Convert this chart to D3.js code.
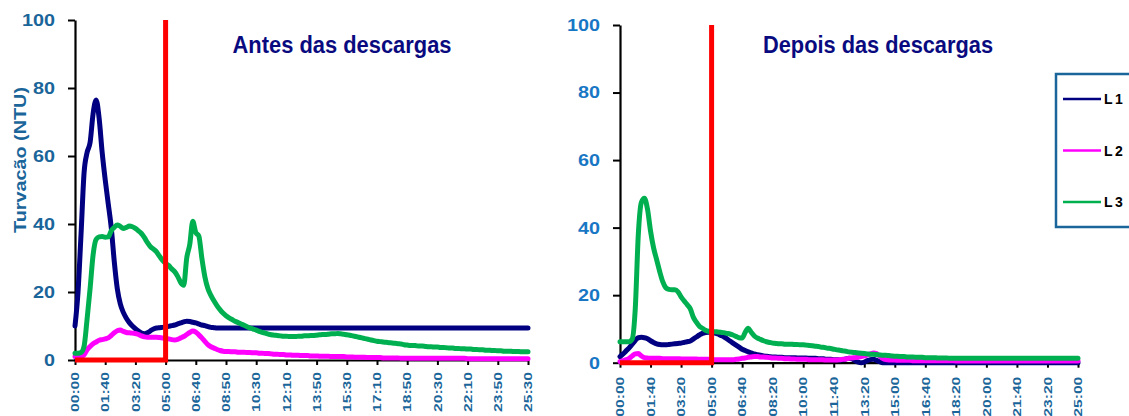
<!DOCTYPE html>
<html>
<head>
<meta charset="utf-8">
<script src="https://cdn.jsdelivr.net/npm/d3@7"></script>
<style>
  html, body { margin: 0; padding: 0; background: #fff; }
  svg { display: block; font-family: "Liberation Sans", Arial, sans-serif; }
</style>
</head>
<body>
<svg id="chart" width="1129" height="416"></svg>
<script>
// Time-axis labels (one label every 10 readings)
const labelsBefore = ["00:00","01:40","03:20","05:00","06:40","08:50","10:30","12:10","13:50","15:30","17:10","18:50","20:30","22:10","23:50","25:30"];
const labelsAfter  = ["00:00","01:40","03:20","05:00","06:40","08:20","10:00","11:40","13:20","15:00","16:40","18:20","20:00","21:40","23:20","25:00"];
const readingsPerLabel = 10;
const yTicks = [0, 20, 40, 60, 80, 100];
const dischargeTime = "05:00";

// Turbidity (NTU) before the discharges
const l1Before = [
  10, 20, 37, 55, 61, 64, 72.5, 76.5, 71, 61,
  53, 46, 39, 29, 21, 16.5, 14, 12.3, 11, 10,
  9.2, 8.5, 7.9, 7.7, 8.0, 8.6, 9.1, 9.4, 9.5, 9.6,
  9.7, 9.9, 10.1, 10.3, 10.6, 10.9, 11.2, 11.4, 11.3, 11.1,
  10.9, 10.6, 10.3, 10.1, 9.8, 9.6, 9.5, 9.4, 9.4, 9.4,
  9.4, 9.4, 9.4, 9.4, 9.4, 9.4, 9.4, 9.4, 9.4, 9.4,
  9.4, 9.4, 9.4, 9.4, 9.4, 9.4, 9.4, 9.4, 9.4, 9.4,
  9.4, 9.4, 9.4, 9.4, 9.4, 9.4, 9.4, 9.4, 9.4, 9.4,
  9.4, 9.4, 9.4, 9.4, 9.4, 9.4, 9.4, 9.4, 9.4, 9.4,
  9.4, 9.4, 9.4, 9.4, 9.4, 9.4, 9.4, 9.4, 9.4, 9.4,
  9.4, 9.4, 9.4, 9.4, 9.4, 9.4, 9.4, 9.4, 9.4, 9.4,
  9.4, 9.4, 9.4, 9.4, 9.4, 9.4, 9.4, 9.4, 9.4, 9.4,
  9.4, 9.4, 9.4, 9.4, 9.4, 9.4, 9.4, 9.4, 9.4, 9.4,
  9.4, 9.4, 9.4, 9.4, 9.4, 9.4, 9.4, 9.4, 9.4, 9.4,
  9.4, 9.4, 9.4, 9.4, 9.4, 9.4, 9.4, 9.4, 9.4, 9.4,
  9.4
];
const l2Before = [
  1, 1, 1, 1.5, 3, 4, 4.8, 5.3, 5.8, 6,
  6.2, 6.5, 7.2, 8, 8.6, 8.8, 8.4, 8.1, 8, 7.9,
  7.8, 7.5, 7.1, 6.8, 6.7, 6.7, 6.7, 6.7, 6.6, 6.5,
  6.4, 6.2, 6.0, 5.9, 6.1, 6.5, 6.9, 7.5, 8.1, 8.5,
  8.2, 7.4, 6.5, 5.5, 4.5, 3.9, 3.5, 3.1, 2.8, 2.6,
  2.5, 2.5, 2.4, 2.4, 2.3, 2.3, 2.3, 2.2, 2.2, 2.1,
  2.1, 2.0, 2.0, 1.9, 1.9, 1.8, 1.7, 1.7, 1.6, 1.6,
  1.5, 1.5, 1.4, 1.4, 1.4, 1.3, 1.3, 1.3, 1.2, 1.2,
  1.2, 1.1, 1.1, 1.1, 1.1, 1.0, 1.0, 1.0, 1.0, 1.0,
  0.9, 0.9, 0.9, 0.8, 0.8, 0.8, 0.8, 0.7, 0.7, 0.7,
  0.7, 0.7, 0.6, 0.6, 0.6, 0.6, 0.6, 0.6, 0.5, 0.5,
  0.5, 0.5, 0.5, 0.5, 0.5, 0.5, 0.5, 0.5, 0.5, 0.5,
  0.5, 0.5, 0.5, 0.5, 0.5, 0.5, 0.5, 0.5, 0.5, 0.5,
  0.4, 0.4, 0.4, 0.4, 0.4, 0.4, 0.4, 0.4, 0.4, 0.4,
  0.4, 0.4, 0.4, 0.4, 0.4, 0.4, 0.4, 0.4, 0.4, 0.4,
  0.4
];
const l3Before = [
  2, 2, 2.2, 4, 12, 21, 31, 35.5, 36.2, 36.3,
  36.1, 36.2, 38, 39, 39.7, 39.3, 38.7, 39, 39.4, 39.2,
  38.7, 38, 37.2, 36, 34.5, 33.3, 32.6, 31.8, 30.5, 29.3,
  28.4, 27.8, 26.8, 26, 24.6, 22.8, 22, 30, 34, 40.8,
  37.5, 36.5, 30, 24.5, 21, 19, 17.4, 16, 14.8, 13.8,
  13, 12.4, 11.9, 11.4, 11, 10.6, 10.2, 9.8, 9.4, 9.1,
  8.8, 8.4, 8.1, 7.9, 7.6, 7.4, 7.3, 7.2, 7.1, 7.0,
  7.0, 6.9, 6.9, 6.9, 7.0, 7.0, 7.1, 7.1, 7.2, 7.2,
  7.3, 7.4, 7.5, 7.5, 7.6, 7.7, 7.7, 7.8, 7.7, 7.6,
  7.4, 7.3, 7.1, 6.9, 6.7, 6.5, 6.3, 6.1, 5.9, 5.7,
  5.5, 5.4, 5.3, 5.2, 5.1, 5.0, 4.9, 4.8, 4.7, 4.5,
  4.4, 4.3, 4.3, 4.2, 4.1, 4.1, 4.0, 3.9, 3.9, 3.8,
  3.8, 3.7, 3.7, 3.6, 3.5, 3.5, 3.4, 3.4, 3.3, 3.3,
  3.2, 3.2, 3.1, 3.1, 3.0, 3.0, 2.9, 2.9, 2.8, 2.8,
  2.7, 2.7, 2.6, 2.6, 2.6, 2.5, 2.5, 2.5, 2.4, 2.4,
  2.4
];

// Turbidity (NTU) after the discharges
const l1After = [
  1.8, 2.6, 3.5, 4.4, 5.5, 6.6, 7.4, 7.5, 7.4, 7.1,
  6.5, 6.0, 5.6, 5.4, 5.3, 5.3, 5.4, 5.5, 5.6, 5.7,
  5.8, 6.0, 6.2, 6.4, 7.0, 7.6, 8.2, 8.7, 8.9, 9.0,
  8.9, 8.8, 8.5, 8.1, 7.7, 7.1, 6.4, 5.8, 5.2, 4.6,
  4.0, 3.6, 3.2, 2.9, 2.6, 2.4, 2.2, 2.0, 1.9, 1.8,
  1.7, 1.7, 1.6, 1.6, 1.5, 1.5, 1.5, 1.5, 1.4, 1.4,
  1.4, 1.4, 1.3, 1.3, 1.3, 1.2, 1.2, 1.1, 1.0, 1.0,
  0.9, 0.9, 0.8, 0.9, 1.1, 1.3, 1.1, 0.6, 0.2, 0,
  0.2, 0.6, 0.9, 1.0, 0.7, 0.3, 0, 0, 0, 0,
  0, 0, 0, 0, 0, 0, 0, 0, 0, 0,
  0, 0, 0, 0, 0, 0, 0, 0, 0, 0,
  0, 0, 0, 0, 0, 0, 0, 0, 0, 0,
  0, 0, 0, 0, 0, 0, 0, 0, 0, 0,
  0, 0, 0, 0, 0, 0, 0, 0, 0, 0,
  0, 0, 0, 0, 0, 0, 0, 0, 0, 0,
  0
];
const l2After = [
  0.3, 0.6, 0.9, 1.3, 2.0, 2.6, 2.7, 2.0, 1.5, 1.4,
  1.3, 1.3, 1.3, 1.3, 1.2, 1.2, 1.2, 1.2, 1.2, 1.2,
  1.1, 1.1, 1.1, 1.1, 1.1, 1.1, 1.0, 1.0, 1.0, 1.0,
  0.9, 0.9, 0.9, 0.9, 0.9, 0.9, 0.9, 0.9, 1.0, 1.1,
  1.3, 1.4, 1.6, 1.7, 1.8, 1.8, 1.7, 1.7, 1.6, 1.5,
  1.4, 1.4, 1.3, 1.3, 1.2, 1.2, 1.1, 1.1, 1.0, 1.0,
  1.0, 1.0, 0.9, 0.9, 0.9, 0.9, 0.9, 0.8, 0.8, 0.8,
  0.8, 0.8, 0.9, 1.0, 1.1, 1.3, 1.4, 1.5, 1.6, 1.8,
  2.0, 2.3, 2.6, 2.9, 2.7, 2.0, 1.3, 0.9, 0.8, 0.8,
  0.8, 0.7, 0.7, 0.7, 0.7, 0.7, 0.6, 0.6, 0.6, 0.6,
  0.6, 0.6, 0.6, 0.6, 0.6, 0.6, 0.6, 0.6, 0.6, 0.6,
  0.5, 0.5, 0.5, 0.5, 0.5, 0.5, 0.5, 0.5, 0.5, 0.5,
  0.5, 0.5, 0.5, 0.5, 0.5, 0.5, 0.5, 0.5, 0.5, 0.5,
  0.5, 0.5, 0.5, 0.5, 0.5, 0.5, 0.5, 0.5, 0.5, 0.5,
  0.5, 0.5, 0.5, 0.5, 0.5, 0.5, 0.5, 0.5, 0.5, 0.5,
  0.5
];
const l3After = [
  6.2, 6.2, 6.2, 6.2, 7, 16, 38, 47.5, 48.7, 45.5,
  39, 34, 30.5, 27, 24, 22.2, 21.7, 21.6, 21.6, 21,
  19.5, 18.3, 17.2, 16, 13.5, 12, 10.8, 10.2, 9.6, 9.3,
  9.2, 9.2, 9.1, 9.0, 8.9, 8.7, 8.5, 8.2, 7.8, 7.4,
  7.3, 9, 10.2, 9, 7.9, 7.3, 6.9, 6.5, 6.2, 6.0,
  5.8, 5.7, 5.6, 5.6, 5.5, 5.5, 5.5, 5.4, 5.4, 5.3,
  5.3, 5.2, 5.1, 5.0, 4.9, 4.8, 4.6, 4.5, 4.3, 4.2,
  4.0, 3.8, 3.7, 3.5, 3.4, 3.2, 3.1, 3.0, 2.9, 2.8,
  2.7, 2.6, 2.5, 2.5, 2.4, 2.3, 2.2, 2.2, 2.1, 2.0,
  1.9, 1.9, 1.8, 1.8, 1.7, 1.7, 1.7, 1.6, 1.6, 1.6,
  1.5, 1.5, 1.5, 1.5, 1.4, 1.4, 1.4, 1.4, 1.3, 1.3,
  1.3, 1.3, 1.3, 1.3, 1.3, 1.3, 1.3, 1.3, 1.3, 1.3,
  1.3, 1.3, 1.3, 1.3, 1.3, 1.3, 1.3, 1.3, 1.3, 1.3,
  1.3, 1.3, 1.3, 1.3, 1.3, 1.3, 1.3, 1.3, 1.3, 1.3,
  1.3, 1.3, 1.3, 1.3, 1.3, 1.3, 1.3, 1.3, 1.3, 1.3,
  1.3
];

const seriesNames = ["L1", "L2", "L3"];
const seriesColors = ["#000080", "#ff00ff", "#00b050"];
const markerColor = "#ff0000";

const svg = d3.select("#chart");

const panels = [
  { title: "Antes das descargas", labels: labelsBefore, series: [l1Before, l2Before, l3Before],
    x0: 75, x1: 528, yTop: 20, yBottom: 360, titleX: 342, titleW: 219,
    yLabelColor: "#1a6599", xLabelColor: "#1a6599", yAxisTitle: "Turvacão (NTU)" },
  { title: "Depois das descargas", labels: labelsAfter, series: [l1After, l2After, l3After],
    x0: 620, x1: 1078, yTop: 25, yBottom: 362.7, titleX: 878, titleW: 230,
    yLabelColor: "#1877c4", xLabelColor: "#1a6599", yAxisTitle: null }
];

panels.forEach(p => {
  const n = (p.labels.length - 1) * readingsPerLabel;
  const x = d3.scaleLinear().domain([0, n]).range([p.x0, p.x1]);
  const y = d3.scaleLinear().domain([0, 100]).range([p.yBottom, p.yTop]);
  const g = svg.append("g");

  // y axis
  const yAxis = g.append("g")
    .attr("transform", `translate(${p.x0},0)`)
    .call(d3.axisLeft(y).tickValues(yTicks).tickSize(7).tickSizeOuter(0).tickPadding(13));
  yAxis.select(".domain").attr("stroke", "#000").attr("stroke-width", 2.2);
  yAxis.selectAll(".tick line").attr("stroke", "#000").attr("stroke-width", 2);
  yAxis.selectAll(".tick text")
    .attr("fill", p.yLabelColor)
    .attr("font-size", 17)
    .attr("font-weight", "bold")
    .attr("textLength", d => String(d).length * 11)
    .attr("lengthAdjust", "spacingAndGlyphs");

  // x axis (category labels every 10 readings)
  const tickIdx = p.labels.map((_, i) => i * readingsPerLabel);
  const xAxis = g.append("g")
    .attr("transform", `translate(0,${p.yBottom})`)
    .call(d3.axisBottom(x).tickValues(tickIdx).tickSize(5).tickSizeOuter(0)
      .tickFormat((d, i) => p.labels[i]));
  xAxis.select(".domain").attr("stroke", "#000").attr("stroke-width", 2.2);
  xAxis.selectAll(".tick line").attr("stroke", "#000").attr("stroke-width", 2);
  xAxis.selectAll(".tick text")
    .attr("transform", "rotate(-90)")
    .attr("x", p.yBottom > 361 ? -14 : -12)
    .attr("y", 0)
    .attr("dy", "0.36em")
    .style("text-anchor", "end")
    .attr("fill", p.xLabelColor)
    .attr("font-size", 10.5)
    .attr("font-weight", "bold")
    .attr("textLength", 40)
    .attr("lengthAdjust", "spacingAndGlyphs");

  // turbidity lines
  const line = d3.line()
    .x((d, i) => x(i))
    .y(d => y(d))
    .curve(d3.curveMonotoneX);
  p.series.forEach((s, k) => {
    g.append("path")
      .datum(s)
      .attr("d", line)
      .attr("fill", "none")
      .attr("stroke", seriesColors[k])
      .attr("stroke-width", 5)
      .attr("stroke-linejoin", "round")
      .attr("stroke-linecap", "round");
  });

  // discharge marker: baseline up to the discharge time, then a vertical bar
  const dIdx = p.labels.indexOf(dischargeTime) * readingsPerLabel;
  const marker = [[0, 0], [dIdx, 0], [dIdx, 100]];
  g.append("path")
    .datum(marker)
    .attr("d", d3.line().x(d => x(d[0])).y(d => y(d[1])))
    .attr("fill", "none")
    .attr("stroke", markerColor)
    .attr("stroke-width", 5);

  // title
  g.append("text")
    .attr("x", p.titleX)
    .attr("y", 52.5)
    .attr("text-anchor", "middle")
    .attr("fill", "#0a0a80")
    .attr("font-size", 23)
    .attr("font-weight", "bold")
    .attr("textLength", p.titleW)
    .attr("lengthAdjust", "spacingAndGlyphs")
    .text(p.title);

  if (p.yAxisTitle) {
    g.append("text")
      .attr("transform", "translate(26,160) rotate(-90)")
      .attr("text-anchor", "middle")
      .attr("fill", p.yLabelColor)
      .attr("font-size", 17)
      .attr("font-weight", "bold")
      .attr("textLength", 146)
      .attr("lengthAdjust", "spacingAndGlyphs")
      .text(p.yAxisTitle);
  }
});

// legend
const legend = svg.append("g");
legend.append("rect")
  .attr("x", 1056).attr("y", 74)
  .attr("width", 90).attr("height", 153)
  .attr("fill", "#fff")
  .attr("stroke", "#1a6599")
  .attr("stroke-width", 2.5);
const legendY = d3.scalePoint().domain(seriesNames).range([99, 202]);
seriesNames.forEach((name, k) => {
  legend.append("line")
    .attr("x1", 1063).attr("x2", 1101)
    .attr("y1", legendY(name)).attr("y2", legendY(name))
    .attr("stroke", seriesColors[k])
    .attr("stroke-width", 2.5);
  legend.append("text")
    .attr("x", 1104).attr("y", legendY(name))
    .attr("dy", "0.36em")
    .attr("fill", "#000")
    .attr("font-size", 14)
    .attr("font-weight", "bold")
    .attr("letter-spacing", 2.5)
    .text(name);
});
</script>
</body>
</html>
